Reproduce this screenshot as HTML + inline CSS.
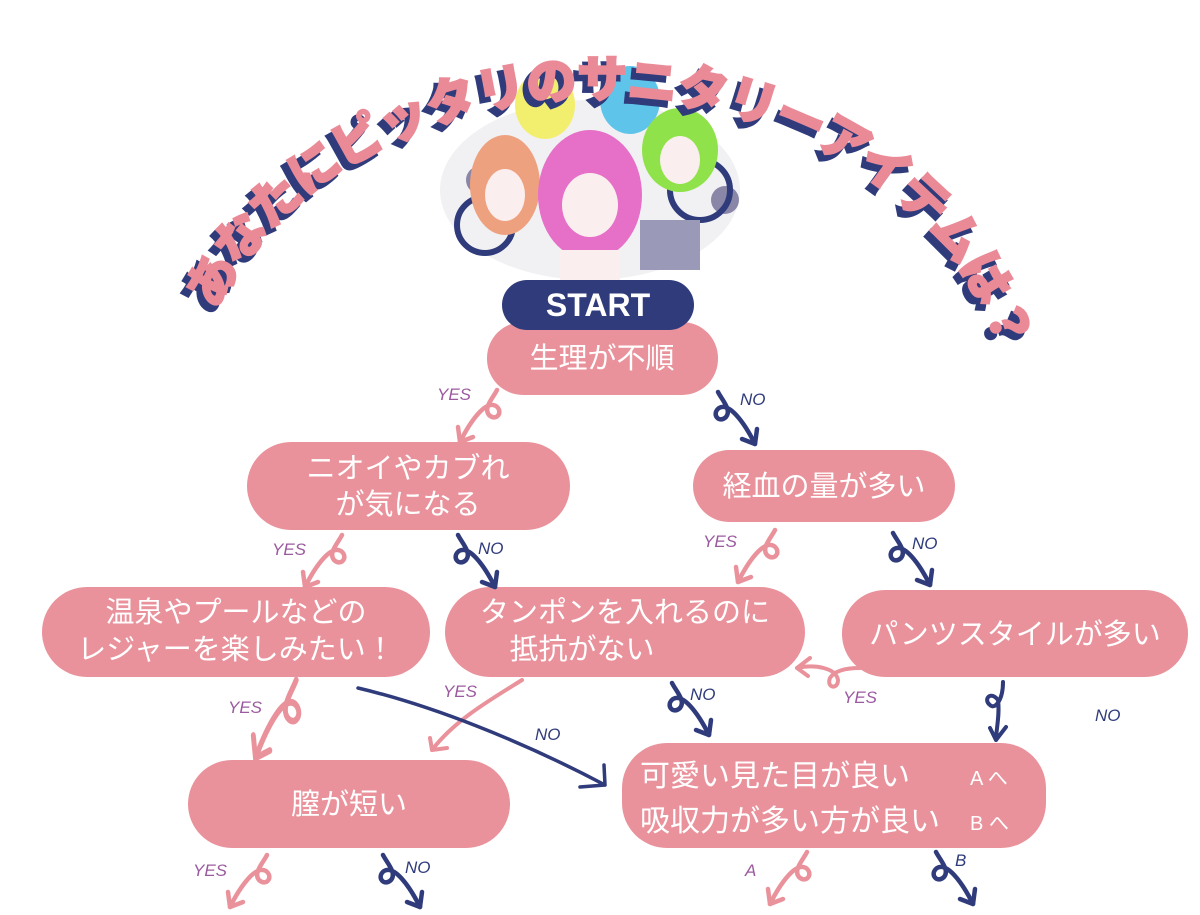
<!DOCTYPE html>
<html><head><meta charset="utf-8"><style>
html,body{margin:0;padding:0;background:#fff;}
svg{display:block;}
.n{fill:#ea929b;}
.t{fill:#fff;font-family:"Liberation Sans","Noto Sans CJK JP",sans-serif;font-size:29px;text-anchor:middle;}
.lab{font-family:"Liberation Sans","Noto Sans CJK JP",sans-serif;font-size:17px;font-style:italic;}
</style></head><body>
<svg width="1200" height="915" viewBox="0 0 1200 915" xmlns="http://www.w3.org/2000/svg">
<defs>
<path id="arc" d="M 175 420 A 425 340 0 0 1 1025 420"/>
<g id="ar" fill="none" stroke-width="4.5" stroke-linecap="round">
<path d="M42 0 C38 8,28 18,34 25 C41 32,49 22,41 16 C31 10,16 30,5 52"/>
<path d="M5 52 L3 37 M5 52 L18 47"/>
</g>
</defs>
<!-- illustration approximation -->
<ellipse cx="590" cy="190" rx="150" ry="90" fill="#f1f1f3"/>
<circle cx="480" cy="180" r="14" fill="#8a86a8"/>
<circle cx="725" cy="200" r="14" fill="#8a86a8"/>
<circle cx="485" cy="225" r="28" fill="none" stroke="#2f3b7b" stroke-width="6"/>
<circle cx="700" cy="190" r="30" fill="none" stroke="#2f3b7b" stroke-width="6"/>
<ellipse cx="545" cy="105" rx="30" ry="34" fill="#f2ee6e"/>
<ellipse cx="630" cy="100" rx="30" ry="34" fill="#5fc4ea"/>
<ellipse cx="680" cy="150" rx="38" ry="42" fill="#8fe24a"/>
<ellipse cx="505" cy="185" rx="35" ry="50" fill="#eea17f"/>
<ellipse cx="590" cy="195" rx="52" ry="65" fill="#e66fc8"/>
<ellipse cx="590" cy="205" rx="28" ry="32" fill="#fbeeee"/>
<ellipse cx="505" cy="195" rx="20" ry="26" fill="#fbeeee"/>
<ellipse cx="680" cy="160" rx="20" ry="24" fill="#fbeeee"/>
<rect x="640" y="220" width="60" height="50" fill="#9a9ab8"/>
<rect x="560" y="250" width="60" height="30" fill="#fbeeee"/>
<!-- title -->
<text font-family="Liberation Sans,'Noto Sans CJK JP',sans-serif" font-weight="900" font-size="50" fill="#2f3b7b" stroke="#2f3b7b" stroke-width="3" dominant-baseline="central" transform="translate(-5,6)"><textPath href="#arc" startOffset="52%" text-anchor="middle" textLength="1010" lengthAdjust="spacing">あなたにピッタリのサニタリーアイテムは？</textPath></text>
<text font-family="Liberation Sans,'Noto Sans CJK JP',sans-serif" font-weight="900" font-size="50" fill="#ea8a97" stroke="#ea8a97" stroke-width="2" dominant-baseline="central"><textPath href="#arc" startOffset="52%" text-anchor="middle" textLength="1010" lengthAdjust="spacing">あなたにピッタリのサニタリーアイテムは？</textPath></text>
<!-- nodes -->
<rect class="n" x="487" y="322" width="231" height="73" rx="36"/>
<rect x="502" y="280" width="192" height="50" rx="25" fill="#2f3b7b"/>
<text x="598" y="316" fill="#fff" font-family="Liberation Sans,sans-serif" font-weight="bold" font-size="32" text-anchor="middle">START</text>
<text class="t" x="602" y="368">生理が不順</text>
<rect class="n" x="247" y="442" width="323" height="88" rx="44"/>
<text class="t" x="408" y="478">ニオイやカブれ</text><text class="t" x="408" y="514">が気になる</text>
<rect class="n" x="693" y="450" width="262" height="72" rx="36"/>
<text class="t" x="824" y="496">経血の量が多い</text>
<rect class="n" x="42" y="587" width="388" height="90" rx="45"/>
<text class="t" x="236" y="622">温泉やプールなどの</text><text class="t" x="236" y="659">レジャーを楽しみたい！</text>
<rect class="n" x="445" y="587" width="360" height="90" rx="45"/>
<text class="t" x="625" y="622">タンポンを入れるのに</text><text class="t" x="582" y="659">抵抗がない</text>
<rect class="n" x="842" y="590" width="346" height="87" rx="43"/>
<text class="t" x="1015" y="644">パンツスタイルが多い</text>
<rect class="n" x="188" y="760" width="322" height="88" rx="44"/>
<text class="t" x="349" y="814">膣が短い</text>
<rect class="n" x="622" y="743" width="424" height="105" rx="45"/>
<text class="t" x="640" y="786" style="text-anchor:start;font-size:30px">可愛い見た目が良い</text>
<text class="t" x="640" y="831" style="text-anchor:start;font-size:30px">吸収力が多い方が良い</text>
<text class="t" x="970" y="785" style="text-anchor:start;font-size:20px">A へ</text>
<text class="t" x="970" y="830" style="text-anchor:start;font-size:20px">B へ</text>
<!-- arrows -->
<g stroke="#ea929b">
<use href="#ar" transform="translate(455,390)"/>
<use href="#ar" transform="translate(300,535)"/>
<use href="#ar" transform="translate(733,530)"/>
<use href="#ar" transform="translate(250,680) scale(1.1,1.5)"/>
<use href="#ar" transform="translate(225,855)"/>
<use href="#ar" transform="translate(765,852)"/>
<path d="M860 668 C848 668,835 670,830 678 C826 688,838 690,838 680 C836 668,815 664,797 668 M797 668 L810 658 M797 668 L808 676" fill="none" stroke-width="4" stroke-linecap="round"/>
<path d="M522 680 C490 700,455 720,432 750 M432 750 L430 738 M432 750 L447 748" fill="none" stroke-width="4" stroke-linecap="round"/>
</g>
<g stroke="#2f3b7b">
<use href="#ar" transform="translate(760,392) scale(-1,1)"/>
<use href="#ar" transform="translate(500,535) scale(-1,1)"/>
<use href="#ar" transform="translate(935,533) scale(-1,1)"/>
<use href="#ar" transform="translate(714,683) scale(-1,1)"/>
<use href="#ar" transform="translate(425,855) scale(-1,1)"/>
<use href="#ar" transform="translate(978,852) scale(-1,1)"/>
<path d="M1003 682 C1003 700,995 710,990 705 C983 700,990 690,998 700 C1000 715,996 730,996 740 M996 740 L990 728 M996 740 L1006 727" fill="none" stroke-width="4" stroke-linecap="round"/>
<path d="M358 688 C430 705,520 740,605 785 M605 785 L604 765 M605 785 L580 787" fill="none" stroke-width="3.5" stroke-linecap="round"/>
</g>
<g class="lab" fill="#9b5aa0">
<text x="437" y="400">YES</text><text x="272" y="555">YES</text><text x="703" y="547">YES</text>
<text x="228" y="713">YES</text><text x="443" y="697">YES</text><text x="843" y="703">YES</text>
<text x="193" y="876">YES</text><text x="745" y="876">A</text>
</g>
<g class="lab" fill="#2f3b7b">
<text x="740" y="405">NO</text><text x="478" y="554">NO</text><text x="912" y="549">NO</text>
<text x="690" y="700">NO</text><text x="535" y="740">NO</text><text x="1095" y="721">NO</text>
<text x="405" y="873">NO</text><text x="955" y="866">B</text>
</g>
</svg>
</body></html>
